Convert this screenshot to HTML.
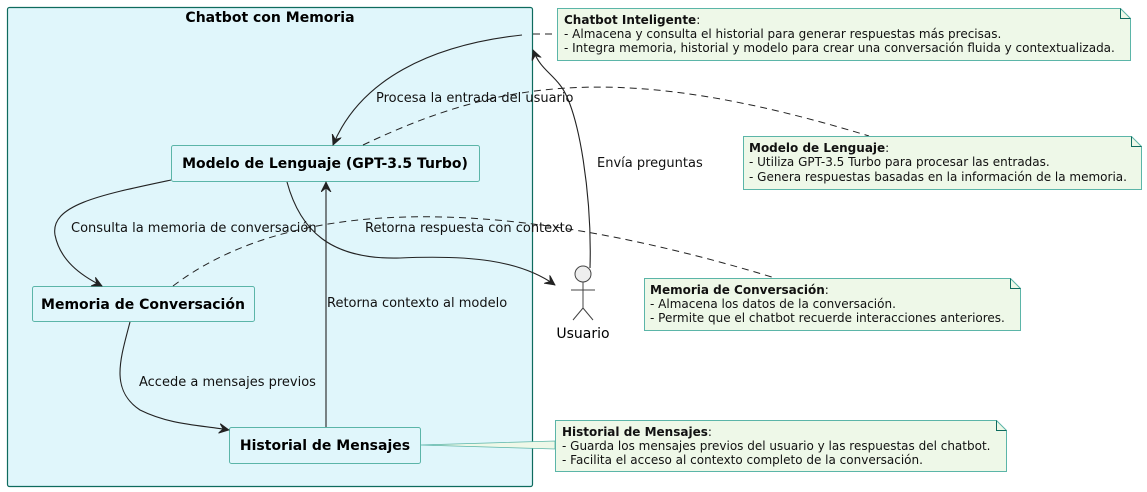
<!DOCTYPE html>
<html><head><meta charset="utf-8"><style>
html,body{margin:0;padding:0;background:#fff;}
svg{display:block;font-family:"DejaVu Sans","Liberation Sans",sans-serif;}
</style></head><body>
<svg width="1147" height="492" viewBox="0 0 1147 492" xmlns="http://www.w3.org/2000/svg">
<defs>
<marker id="a" markerWidth="12" markerHeight="12" refX="10" refY="5" orient="auto" markerUnits="userSpaceOnUse">
<path d="M0,0 L10,5 L0,10 L4,5 Z" fill="#222" stroke="#222" stroke-width="0.8"/>
</marker>
</defs>
<rect x="7.5" y="7.5" width="525" height="479" rx="2" fill="#e0f6fb" stroke="#0e6b5e" stroke-width="1.2"/>
<text x="270" y="22" font-size="14" font-weight="bold" text-anchor="middle">Chatbot con Memoria</text>

<rect x="171.5" y="145.5" width="308" height="36" rx="2" fill="#e0f6fb" stroke="#5bb5a8"/>
<text x="325" y="168" font-size="14" font-weight="bold" text-anchor="middle">Modelo de Lenguaje (GPT-3.5 Turbo)</text>
<rect x="32.5" y="286.5" width="222" height="35" rx="2" fill="#e0f6fb" stroke="#5bb5a8"/>
<text x="143" y="309" font-size="14" font-weight="bold" text-anchor="middle">Memoria de Conversación</text>
<rect x="229.5" y="427.5" width="191" height="36" rx="2" fill="#e0f6fb" stroke="#5bb5a8"/>
<text x="325" y="450" font-size="14" font-weight="bold" text-anchor="middle">Historial de Mensajes</text>

<g fill="none" stroke="#222" stroke-width="1.1">
<path d="M522,35 C430,45 360,80 333,145" marker-end="url(#a)"/>
<path d="M590,268 C592,200 580,110 560,85 C550,72 540,68 533,50" marker-end="url(#a)"/>
<path d="M171,180 C100,195 50,205 55,235 C60,260 80,275 102,286" marker-end="url(#a)"/>
<path d="M287,182 C300,230 330,260 400,258 C470,255 520,260 555,285" marker-end="url(#a)"/>
<path d="M326,427 L326,182" marker-end="url(#a)"/>
<path d="M130,322 C120,360 110,390 140,410 C170,425 200,425 229,430" marker-end="url(#a)"/>
</g>
<g fill="none" stroke="#222" stroke-width="1" stroke-dasharray="7,5">
<path d="M533,34 L557,34"/>
<path d="M363,145 C500,80 620,60 869,136"/>
<path d="M173,286 C300,190 520,200 775,278"/>
</g>
<path d="M420,445 L555,441 L555,449 Z" fill="#eef8e8" stroke="#5bb5a8" stroke-width="0.8"/>

<g font-size="13" fill="#111">
<text x="376" y="102">Procesa la entrada del usuario</text>
<text x="597" y="167">Envía preguntas</text>
<text x="71" y="232">Consulta la memoria de conversación</text>
<text x="365" y="232">Retorna respuesta con contexto</text>
<text x="327" y="307">Retorna contexto al modelo</text>
<text x="139" y="386">Accede a mensajes previos</text>
</g>

<g stroke="#444" stroke-width="1" fill="none">
<circle cx="583" cy="274" r="8" fill="#eee"/>
<path d="M583,282 L583,308 M571,290 L595,290 M583,308 L573,320 M583,308 L593,320"/>
</g>
<text x="583" y="338" font-size="14" text-anchor="middle">Usuario</text>

<g fill="#eef8e8" stroke="#5bb5a8" stroke-width="1">
<path d="M557.5,8.5 H1120.5 L1130.5,18.5 V60.5 H557.5 Z"/>
<path d="M743.5,136.5 H1131.5 L1141.5,146.5 V189.5 H743.5 Z"/>
<path d="M644.5,278.5 H1010.5 L1020.5,288.5 V330.5 H644.5 Z"/>
<path d="M555.5,420.5 H996.5 L1006.5,430.5 V471.5 H555.5 Z"/>
</g>
<g fill="none" stroke="#0e6b5e" stroke-width="1">
<path d="M1120.5,8.5 V18.5 H1130.5"/>
<path d="M1131.5,136.5 V146.5 H1141.5"/>
<path d="M1010.5,278.5 V288.5 H1020.5"/>
<path d="M996.5,420.5 V430.5 H1006.5"/>
</g>
<g font-size="12" fill="#111">
<text x="564" y="24"><tspan font-weight="bold">Chatbot Inteligente</tspan>:</text>
<text x="564" y="38">- Almacena y consulta el historial para generar respuestas más precisas.</text>
<text x="564" y="52">- Integra memoria, historial y modelo para crear una conversación fluida y contextualizada.</text>
<text x="749" y="152"><tspan font-weight="bold">Modelo de Lenguaje</tspan>:</text>
<text x="749" y="166">- Utiliza GPT-3.5 Turbo para procesar las entradas.</text>
<text x="749" y="181">- Genera respuestas basadas en la información de la memoria.</text>
<text x="650" y="294"><tspan font-weight="bold">Memoria de Conversación</tspan>:</text>
<text x="650" y="308">- Almacena los datos de la conversación.</text>
<text x="650" y="322">- Permite que el chatbot recuerde interacciones anteriores.</text>
<text x="562" y="436"><tspan font-weight="bold">Historial de Mensajes</tspan>:</text>
<text x="562" y="450">- Guarda los mensajes previos del usuario y las respuestas del chatbot.</text>
<text x="562" y="464">- Facilita el acceso al contexto completo de la conversación.</text>
</g>
</svg>
</body></html>
